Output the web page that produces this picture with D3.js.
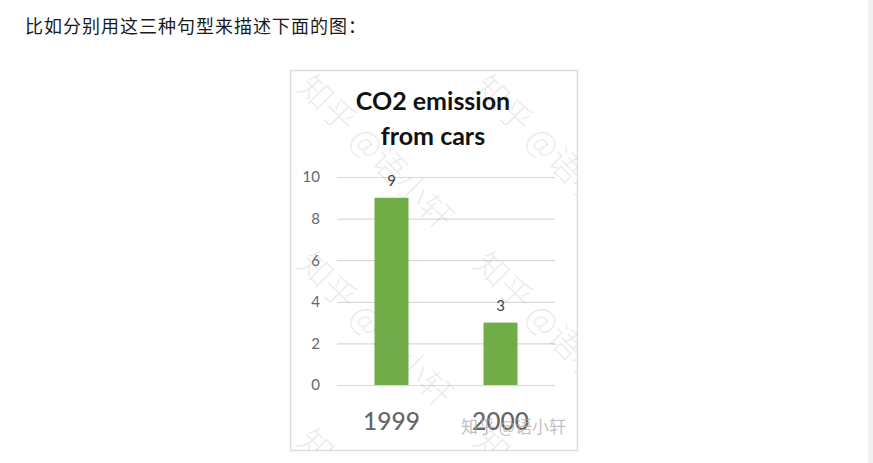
<!DOCTYPE html>
<html>
<head>
<meta charset="utf-8">
<style>
html, body { margin: 0; padding: 0; background: #fff; overflow: hidden; }
</style>
<script src="https://cdn.jsdelivr.net/npm/d3@7"></script>
</head>
<body>
<script>
var categories = ["1999", "2000"];
var values = [9, 3];
var yTicks = [0, 2, 4, 6, 8, 10];
var titleLines = ["CO2 emission", "from cars"];
var caption = "比如分别用这三种句型来描述下面的图：";
var watermark = "知乎 @语小轩";

var width = 873, height = 463;
var cjk = "'Noto Sans CJK SC', sans-serif";
var latin = "Lato, 'Open Sans', sans-serif";

var svg = d3.select("body").append("svg")
	.attr("width", width)
	.attr("height", height)
	.style("display", "block");

// page scrollbar strip on the right
svg.append("rect")
	.attr("x", 868).attr("y", 0)
	.attr("width", 5).attr("height", height)
	.attr("fill", "#f1f1f1");

svg.append("text")
	.attr("x", 25).attr("y", 33)
	.style("font-family", cjk)
	.style("font-size", "18px")
	.style("letter-spacing", "1px")
	.style("fill", "#1a1a1a")
	.text(caption);

// picture frame
svg.append("rect")
	.attr("x", 290.5).attr("y", 70.5)
	.attr("width", 287).attr("height", 380)
	.attr("fill", "#fff")
	.attr("stroke", "#dddddd")
	.attr("stroke-width", 1.5);

var x = d3.scaleBand()
	.domain(categories)
	.range([337, 555])
	.paddingInner(0.688)
	.paddingOuter(0.344);

var y = d3.scaleLinear()
	.domain([0, 10])
	.range([385, 177]);

// gridlines and value labels through the axis generator
var yAxis = svg.append("g")
	.attr("transform", "translate(337,0)")
	.call(d3.axisLeft(y).tickValues(yTicks).tickSize(-218).tickPadding(17));

yAxis.select(".domain").remove();
yAxis.selectAll("line")
	.attr("stroke", "#d9d9d9")
	.attr("stroke-width", 1.2);
yAxis.selectAll("text")
	.style("font-family", latin)
	.style("font-size", "15px")
	.style("fill", "#666");

svg.append("g").selectAll("rect")
	.data(values)
	.join("rect")
	.attr("x", function(d, i) { return x(categories[i]); })
	.attr("y", function(d) { return y(d); })
	.attr("width", x.bandwidth())
	.attr("height", function(d) { return y(0) - y(d); })
	.attr("fill", "#70ad47");

svg.append("g").selectAll("text")
	.data(values)
	.join("text")
	.attr("x", function(d, i) { return x(categories[i]) + x.bandwidth() / 2; })
	.attr("y", function(d) { return y(d) - 12; })
	.style("font-family", latin)
	.style("font-size", "15px")
	.style("text-anchor", "middle")
	.style("fill", "#444")
	.text(function(d) { return d; });

svg.append("g").selectAll("text")
	.data(categories)
	.join("text")
	.attr("x", function(d) { return x(d) + x.bandwidth() / 2; })
	.attr("y", 430)
	.style("font-family", latin)
	.style("font-size", "24.5px")
	.style("font-weight", "500")
	.style("text-anchor", "middle")
	.style("fill", "#666")
	.text(function(d) { return d; });

svg.append("g").selectAll("text")
	.data(titleLines)
	.join("text")
	.attr("x", 433)
	.attr("y", function(d, i) { return 110 + 35 * i; })
	.style("font-family", latin)
	.style("font-size", "25px")
	.style("font-weight", "700")
	.style("text-anchor", "middle")
	.style("fill", "#111")
	.text(function(d) { return d; });

// diagonal watermark tiled over the picture
svg.append("clipPath")
	.attr("id", "frame-clip")
	.append("rect")
	.attr("x", 291).attr("y", 71)
	.attr("width", 286).attr("height", 379);

var tileX = [296, 472];
var tileY = [89, 266, 443];
var tiles = svg.append("g").attr("clip-path", "url(#frame-clip)");

tileX.forEach(function(tx) {
	tileY.forEach(function(ty) {
		tiles.append("text")
			.attr("transform", "translate(" + tx + "," + ty + ") rotate(45)")
			.style("font-family", cjk)
			.style("font-size", "33px")
			.style("font-weight", "300")
			.style("fill", "#888")
			.style("fill-opacity", 0.17)
			.text(watermark);
	});
});

svg.append("text")
	.attr("x", 461).attr("y", 433)
	.style("font-family", cjk)
	.style("font-size", "17px")
	.style("fill", "#aaa")
	.style("fill-opacity", 0.75)
	.text(watermark);
</script>
</body>
</html>
